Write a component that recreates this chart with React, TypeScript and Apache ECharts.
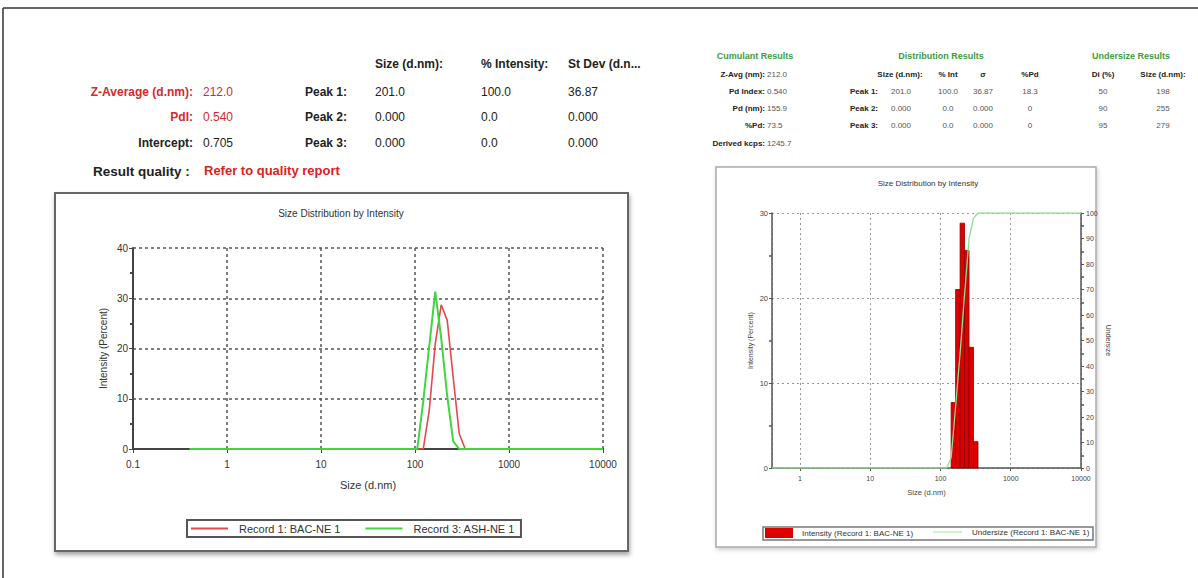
import React, { useEffect, useRef } from "react";
import * as echarts from "echarts";

// ---------- data ----------
const sizeBins = [0.4, 91.28, 105.7, 122.4, 141.8, 164.2, 190.1, 220.2, 255.0, 295.3, 342.0, 396.1, 10000];
const record1 = [0, 0, 0, 0, 7.7, 20.9, 28.7, 25.6, 14.2, 3.1, 0, 0, 0];
const record3 = [0, 0, 0, 9.5, 20.5, 31.3, 22.0, 10.5, 1.5, 0, 0, 0, 0];

const intensityBinEdges = [141.8, 164.2, 190.1, 220.2, 255.0, 295.3, 342.0];
const intensityValues = [7.7, 21.0, 28.8, 25.6, 14.2, 3.1];

const undersizeSizes = [0.4, 122.4, 141.8, 164.2, 190.1, 220.2, 255.0, 295.3, 342.0, 10000];
const undersizeValues = [0, 0, 4, 24, 45, 68, 90, 98, 100, 100];

const leftYTicks = { min: 0, max: 40, interval: 10 };
const rightYTicks = { min: 0, max: 30, interval: 10 };
const undersizeTicks = { min: 0, max: 100, interval: 10 };

const legendLeft = ["Record 1: BAC-NE 1", "Record 3: ASH-NE 1"];
const legendRight = ["Intensity (Record 1: BAC-NE 1)", "Undersize (Record 1: BAC-NE 1)"];

const FONT = '"Liberation Sans", Arial, Helvetica, sans-serif';
const RED = "#d42a2a";
const GREEN_H = "#3c9c3c";
const LINE_ICON = "path://M0,0L40,0L40,2L0,2Z";
const THIN_LINE_ICON = "path://M0,0L40,0L40,1.2L0,1.2Z";

function txt(text: string, x: number, y: number, o: any = {}) {
  const align = o.align || "left";
  return {
    type: "text",
    x,
    y,
    silent: true,
    style: {
      text,
      fill: o.color || "#222",
      fontSize: o.size || 12,
      fontWeight: o.bold ? "bold" : "normal",
      fontFamily: FONT,
      align,
      textAlign: align,
      verticalAlign: "middle",
      textVerticalAlign: "middle",
    },
  };
}

function fmtLog(v: number) {
  return String(+Number(v).toPrecision(6));
}

function buildGraphic() {
  const g: any[] = [];
  // outer frame
  g.push({ type: "line", z: -20, shape: { x1: 3, y1: 8, x2: 1198, y2: 8 }, style: { stroke: "#333", lineWidth: 1.5 } });
  g.push({ type: "line", z: -20, shape: { x1: 3, y1: 8, x2: 3, y2: 578 }, style: { stroke: "#333", lineWidth: 1.5 } });
  // chart boxes
  g.push({
    type: "rect", z: -10,
    shape: { x: 55, y: 193, width: 573, height: 358 },
    style: { fill: "#fff", stroke: "#666", lineWidth: 2, shadowBlur: 4, shadowOffsetX: 1, shadowOffsetY: 3, shadowColor: "rgba(0,0,0,0.35)" },
  });
  g.push({
    type: "rect", z: -10,
    shape: { x: 716, y: 167, width: 380, height: 380 },
    style: { fill: "#fff", stroke: "#aaa", lineWidth: 1.5, shadowBlur: 4, shadowOffsetX: 1, shadowOffsetY: 2, shadowColor: "rgba(0,0,0,0.2)" },
  });
  // right legend frame
  g.push({
    type: "rect", z: 10,
    shape: { x: 763, y: 527, width: 330, height: 13 },
    style: { fill: "none", stroke: "#777", lineWidth: 1.5 },
  });
  // chart titles
  g.push(txt("Size Distribution by Intensity", 341, 213, { align: "center", size: 10, color: "#333" }));
  g.push(txt("Size Distribution by Intensity", 928, 183, { align: "center", size: 8, color: "#333" }));

  // left table
  g.push(txt("Size (d.nm):", 375, 64, { bold: true }));
  g.push(txt("% Intensity:", 481, 64, { bold: true }));
  g.push(txt("St Dev (d.n...", 568, 64, { bold: true }));
  g.push(txt("Z-Average (d.nm):", 193, 92, { align: "right", bold: true, color: RED }));
  g.push(txt("212.0", 203, 92, { color: RED }));
  g.push(txt("PdI:", 193, 117, { align: "right", bold: true, color: RED }));
  g.push(txt("0.540", 203, 117, { color: RED }));
  g.push(txt("Intercept:", 193, 143, { align: "right", bold: true }));
  g.push(txt("0.705", 203, 143, {}));
  const peaks = [["Peak 1:", "201.0", "100.0", "36.87"], ["Peak 2:", "0.000", "0.0", "0.000"], ["Peak 3:", "0.000", "0.0", "0.000"]];
  const ry = [92, 117, 143];
  peaks.forEach((p, i) => {
    g.push(txt(p[0], 347, ry[i], { align: "right", bold: true }));
    g.push(txt(p[1], 375, ry[i], {}));
    g.push(txt(p[2], 481, ry[i], {}));
    g.push(txt(p[3], 568, ry[i], {}));
  });
  g.push(txt("Result quality :", 93, 171, { bold: true, size: 13.5 }));
  g.push(txt("Refer to quality report", 204, 170, { bold: true, size: 13, color: "#e02020" }));

  // right tables
  const s = 8;
  const hs = 9;
  g.push(txt("Cumulant Results", 755, 56, { align: "center", bold: true, size: hs, color: GREEN_H }));
  const cum = [["Z-Avg (nm):", "212.0"], ["Pd Index:", "0.540"], ["Pd (nm):", "155.9"], ["%Pd:", "73.5"], ["Derived kcps:", "1245.7"]];
  const cy = [74, 91, 108, 125, 143];
  cum.forEach((c, i) => {
    g.push(txt(c[0], 765, cy[i], { align: "right", bold: true, size: s }));
    g.push(txt(c[1], 767, cy[i], { size: s, color: "#555" }));
  });
  g.push(txt("Distribution Results", 941, 56, { align: "center", bold: true, size: hs, color: GREEN_H }));
  const dh = [["Size (d.nm):", 900], ["% Int", 948], ["σ", 983], ["%Pd", 1030]];
  dh.forEach((h: any) => g.push(txt(h[0], h[1], 74, { align: "center", bold: true, size: s })));
  const drows = [["Peak 1:", "201.0", "100.0", "36.87", "18.3"], ["Peak 2:", "0.000", "0.0", "0.000", "0"], ["Peak 3:", "0.000", "0.0", "0.000", "0"]];
  const dx = [901, 948, 983, 1030];
  drows.forEach((r, i) => {
    g.push(txt(r[0], 878, cy[i + 1], { align: "right", bold: true, size: s }));
    for (let k = 1; k < 5; k++) g.push(txt(r[k], dx[k - 1], cy[i + 1], { align: "center", size: s, color: "#555" }));
  });
  g.push(txt("Undersize Results", 1131, 56, { align: "center", bold: true, size: hs, color: GREEN_H }));
  g.push(txt("Di (%)", 1103, 74, { align: "center", bold: true, size: s }));
  g.push(txt("Size (d.nm):", 1163, 74, { align: "center", bold: true, size: s }));
  const urows = [["50", "198"], ["90", "255"], ["95", "279"]];
  urows.forEach((r, i) => {
    g.push(txt(r[0], 1103, cy[i + 1], { align: "center", size: s, color: "#555" }));
    g.push(txt(r[1], 1163, cy[i + 1], { align: "center", size: s, color: "#555" }));
  });
  return g;
}

function buildOption() {
  const axisLabelL = { fontSize: 10, color: "#333", fontFamily: FONT };
  const axisLabelR = { fontSize: 7, color: "#444", fontFamily: FONT };
  const darkSplit = { show: true, lineStyle: { type: [3, 3], color: "#555", width: 1.5 } };
  const lightSplit = { show: true, lineStyle: { type: [2, 3], color: "#999", width: 1 } };

  return {
    animation: false,
    backgroundColor: "#fff",
    graphic: { elements: buildGraphic() },
    grid: [
      { left: 133, top: 248, width: 470, height: 201 },
      { left: 772, top: 213, width: 309, height: 255 },
    ],
    legend: [
      {
        data: [{ name: legendLeft[0], icon: LINE_ICON }, { name: legendLeft[1], icon: LINE_ICON }],
        left: 187,
        top: 520,
        orient: "horizontal",
        borderColor: "#555",
        borderWidth: 2,
        padding: [3, 6, 3, 4],
        itemGap: 25,
        itemWidth: 37,
        itemHeight: 10,
        selectedMode: false,
        textStyle: { fontSize: 11, color: "#333", fontFamily: FONT, padding: [0, 0, 0, 6] },
      },
      {
        data: [{ name: legendRight[0], icon: "rect" }],
        left: 765,
        top: 528,
        padding: 0,
        itemWidth: 28,
        itemHeight: 10,
        selectedMode: false,
        textStyle: { fontSize: 8, color: "#333", fontFamily: FONT, padding: [0, 0, 0, 4] },
      },
      {
        data: [{ name: legendRight[1], icon: THIN_LINE_ICON }],
        left: 933,
        top: 528,
        padding: 0,
        itemWidth: 29,
        itemHeight: 10,
        selectedMode: false,
        textStyle: { fontSize: 8, color: "#333", fontFamily: FONT, padding: [0, 0, 0, 5] },
      },
    ],
    xAxis: [
      {
        type: "log", logBase: 10, gridIndex: 0, min: 0.1, max: 10000,
        name: "Size (d.nm)", nameLocation: "middle", nameGap: 30,
        nameTextStyle: { fontSize: 11, color: "#333", fontFamily: FONT },
        axisLine: { show: true, onZero: false, lineStyle: { color: "#444", width: 2 } },
        axisTick: { show: true, length: 4, lineStyle: { color: "#444" } },
        axisLabel: { ...axisLabelL, margin: 10, formatter: fmtLog },
        splitLine: darkSplit,
      },
      {
        type: "log", logBase: 10, gridIndex: 1, min: 0.4, max: 10000,
        name: "Size (d.nm)", nameLocation: "middle", nameGap: 20,
        nameTextStyle: { fontSize: 7.5, color: "#444", fontFamily: FONT },
        axisLine: { show: true, onZero: false, lineStyle: { color: "#555", width: 1.5 } },
        axisTick: { show: true, length: 3, lineStyle: { color: "#555" } },
        axisLabel: { ...axisLabelR, margin: 7, showMinLabel: false, formatter: fmtLog },
        splitLine: lightSplit,
      },
    ],
    yAxis: [
      {
        type: "value", gridIndex: 0, ...leftYTicks,
        name: "Intensity (Percent)", nameLocation: "middle", nameGap: 25,
        nameTextStyle: { fontSize: 10, color: "#333", fontFamily: FONT },
        axisLine: { show: true, lineStyle: { color: "#444", width: 2 } },
        axisTick: { show: true, length: 4, lineStyle: { color: "#444" } },
        minorTick: { show: true, splitNumber: 2, length: 3, lineStyle: { color: "#444", width: 2 } },
        axisLabel: { ...axisLabelL, margin: 5 },
        splitLine: darkSplit,
      },
      {
        type: "value", gridIndex: 1, ...rightYTicks,
        name: "Intensity (Percent)", nameLocation: "middle", nameGap: 18,
        nameTextStyle: { fontSize: 7, color: "#444", fontFamily: FONT },
        axisLine: { show: true, lineStyle: { color: "#555", width: 1.5 } },
        axisTick: { show: true, length: 3, lineStyle: { color: "#555" } },
        minorTick: { show: true, splitNumber: 2, length: 3, lineStyle: { color: "#555", width: 1.5 } },
        axisLabel: { ...axisLabelR, fontSize: 7.5, margin: 4 },
        splitLine: lightSplit,
      },
      {
        type: "value", gridIndex: 1, position: "right", ...undersizeTicks,
        name: "Undersize", nameLocation: "middle", nameGap: 24, nameRotate: -90,
        nameTextStyle: { fontSize: 7, color: "#444", fontFamily: FONT },
        axisLine: { show: true, lineStyle: { color: "#555", width: 1.5 } },
        axisTick: { show: true, length: 3, lineStyle: { color: "#555" } },
        minorTick: { show: true, splitNumber: 2, length: 3, lineStyle: { color: "#555", width: 1.5 } },
        axisLabel: { ...axisLabelR, margin: 5 },
        splitLine: { show: false },
      },
    ],
    series: [
      {
        name: legendLeft[0], type: "line", xAxisIndex: 0, yAxisIndex: 0,
        symbol: "none", z: 3,
        itemStyle: { color: "#e5484d" },
        lineStyle: { color: "#e5484d", width: 1.6 },
        data: sizeBins.map((x, i) => [x, record1[i]]),
      },
      {
        name: legendLeft[1], type: "line", xAxisIndex: 0, yAxisIndex: 0,
        symbol: "none", z: 4,
        itemStyle: { color: "#3fd63f" },
        lineStyle: { color: "#3fd63f", width: 2 },
        data: sizeBins.map((x, i) => [x, record3[i]]),
      },
      {
        name: legendRight[0], type: "custom", xAxisIndex: 1, yAxisIndex: 1, z: 3,
        itemStyle: { color: "#dd0000" },
        encode: { x: [0, 1], y: 2 },
        data: intensityValues.map((v, i) => [intensityBinEdges[i], intensityBinEdges[i + 1], v]),
        renderItem: (params: any, api: any) => {
          const p0 = api.coord([api.value(0), 0]);
          const p1 = api.coord([api.value(1), api.value(2)]);
          return {
            type: "rect",
            shape: { x: p0[0], y: p1[1], width: p1[0] - p0[0], height: p0[1] - p1[1] },
            style: { fill: "#dd0000", stroke: "#8a0000", lineWidth: 0.8 },
          };
        },
      },
      {
        name: legendRight[1], type: "line", xAxisIndex: 1, yAxisIndex: 2,
        symbol: "none", z: 5,
        itemStyle: { color: "#8fe08f" },
        lineStyle: { color: "#8fe08f", width: 1.3 },
        data: undersizeSizes.map((x, i) => [x, undersizeValues[i]]),
      },
    ],
  };
}

export default function App() {
  const ref = useRef<HTMLDivElement>(null);
  useEffect(() => {
    if (!ref.current) return;
    const chart = echarts.init(ref.current, null, { renderer: "svg" });
    chart.setOption(buildOption() as any);
    return () => chart.dispose();
  }, []);
  return (
    <div
      ref={ref}
      style={{ position: "absolute", left: 0, top: 0, width: 1198, height: 578, background: "#fff" }}
    />
  );
}
